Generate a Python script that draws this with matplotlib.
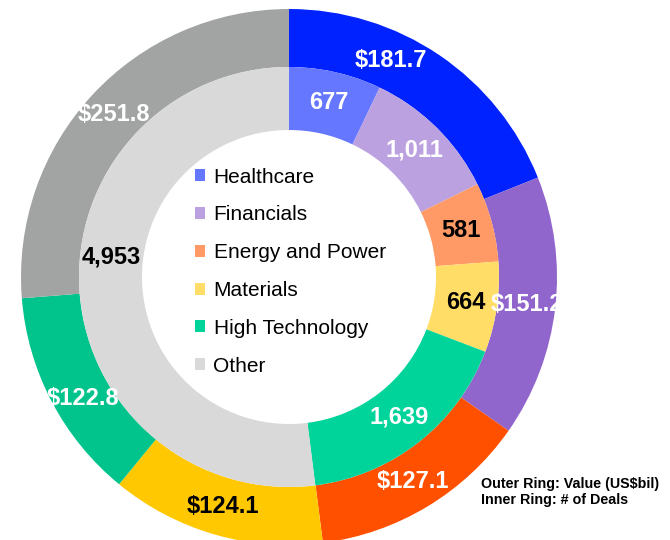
import numpy as np
import matplotlib.pyplot as plt

# ================= DATA =================
SECTORS = ["Healthcare", "Financials", "Energy and Power", "Materials",
           "High Technology", "Other"]
VALUE_BIL = [181.7, 151.2, 127.1, 124.1, 122.8, 251.8]   # outer ring
NUM_DEALS = [677, 1011, 581, 664, 1639, 4953]             # inner ring

OUTER_COLORS = ["#0022FF", "#9166CC", "#FF5000", "#FFC800", "#00C48C", "#A1A4A3"]
INNER_COLORS = ["#6677FF", "#BBA1E0", "#FF9966", "#FFDD66", "#00D49A", "#D9D9D9"]
OUTER_TEXT = ["white", "white", "white", "black", "white", "white"]
INNER_TEXT = ["white", "white", "black", "black", "white", "black"]
OUTER_NUDGE = [9, 0, 0, 0, 3, 0]     # degrees, label placement tweaks
INNER_NUDGE = [0, 0, 0, 0, 0, -10]
# =========================================

FONT = ["Liberation Sans", "DejaVu Sans"]
plt.rcParams["font.family"] = FONT

CENTER = (289, 263)
R_OUT, W_OUT = 268, 58
R_IN, W_IN = 210, 63

fig = plt.figure(figsize=(6.7, 5.4), dpi=100)
ax = fig.add_axes([0, 0, 1, 1])

outer, _ = ax.pie(VALUE_BIL, radius=R_OUT, center=CENTER, startangle=90,
                  counterclock=False, colors=OUTER_COLORS,
                  wedgeprops=dict(width=W_OUT, linewidth=0))
inner, _ = ax.pie(NUM_DEALS, radius=R_IN, center=CENTER, startangle=90,
                  counterclock=False, colors=INNER_COLORS,
                  wedgeprops=dict(width=W_IN, linewidth=0))


def label_ring(wedges, texts, colors, nudges, r):
    for w, t, c, n in zip(wedges, texts, colors, nudges):
        ang = np.deg2rad((w.theta1 + w.theta2) / 2 + n)
        ax.text(CENTER[0] + r * np.cos(ang), CENTER[1] + r * np.sin(ang), t,
                ha="center", va="center", color=c, fontsize=17,
                fontweight="bold")


label_ring(outer, [f"${v:.1f}" for v in VALUE_BIL], OUTER_TEXT, OUTER_NUDGE,
           R_OUT - W_OUT / 2)
label_ring(inner, [f"{v:,}" for v in NUM_DEALS], INNER_TEXT, INNER_NUDGE,
           R_IN - W_IN / 2)

ax.legend(inner, SECTORS, loc="upper left",
          bbox_to_anchor=(176 / 670, 1 - 149 / 540),
          frameon=False, fontsize=15, handlelength=0.5, handleheight=0.5,
          handletextpad=0.4, labelspacing=0.9)

ax.text(481, 540 - 484, "Outer Ring: Value (US$bil)", fontsize=10.3,
        fontweight="bold", va="center", ha="left")
ax.text(481, 540 - 500, "Inner Ring: # of Deals", fontsize=10.3,
        fontweight="bold", va="center", ha="left")

ax.set_xlim(0, 670)
ax.set_ylim(0, 540)
ax.set_aspect("equal")
ax.axis("off")

fig.savefig("out.png", dpi=100)
